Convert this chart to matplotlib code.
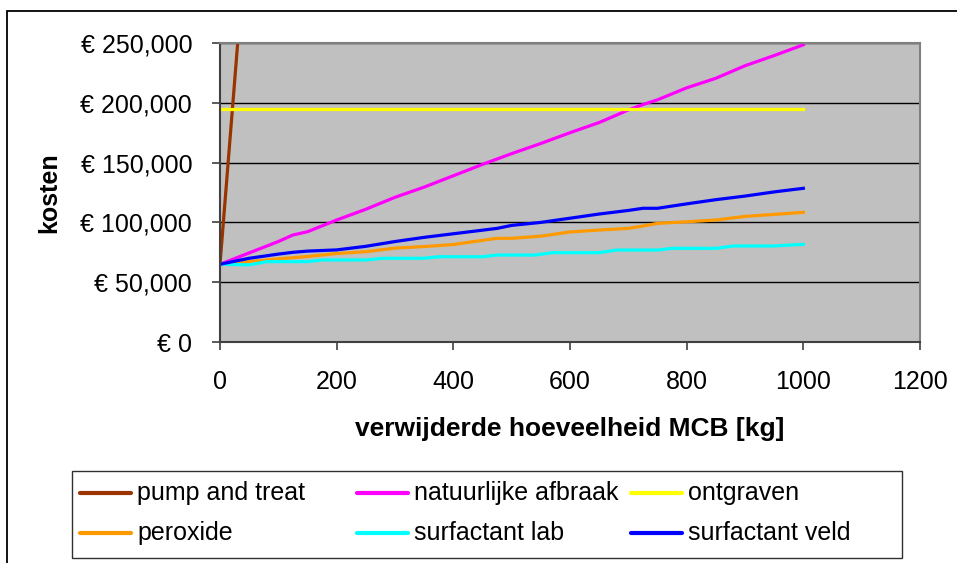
import matplotlib.pyplot as plt
from matplotlib.patches import Rectangle
from matplotlib.lines import Line2D
from matplotlib.ticker import FuncFormatter

plt.rcParams['font.family'] = ['Liberation Sans', 'DejaVu Sans']

# gemeenschappelijke x-waarden (kg MCB)
kg = [0, 50, 100, 125, 150, 200, 250, 300, 350, 400, 450, 475, 500,
      550, 600, 650, 700, 725, 750, 800, 850, 900, 950, 1000]

pump_kg = [0, 50]
pump = [65000, 370000]

natuurlijk = [65000, 74500, 84000, 89500, 92200, 102000, 111000, 121000, 129500,
              139000, 148500, 153000, 157500, 166000, 175000, 183500, 194000,
              198500, 202500, 212500, 220500, 231000, 239500, 248500]

ontgraven_kg = [0, 1000]
ontgraven = [195000, 195000]

peroxide = [65000, 67200, 69500, 70500, 71500, 74000, 75500, 78500, 79800,
            81500, 85000, 86700, 86700, 88500, 92000, 93600, 95000, 97000,
            99200, 100500, 102000, 105000, 106700, 108400]

lab_kg = [0, 50, 80, 150, 175, 250, 280, 350, 375, 450, 475, 540, 570,
          650, 680, 750, 775, 850, 880, 950, 1000]
lab = [65000, 64500, 67200, 67200, 68600, 68600, 70000, 70000, 71300, 71300,
       72700, 72700, 74700, 74700, 76900, 76900, 78300, 78300, 80300, 80300, 81700]

veld = [65000, 70000, 73500, 75000, 76000, 77000, 80000, 84000, 87500, 90500,
        93500, 95000, 97500, 100000, 103500, 107000, 110000, 111800, 111800,
        115500, 119000, 122000, 125500, 128500]

namen = ['pump and treat', 'natuurlijke afbraak', 'ontgraven',
         'peroxide', 'surfactant lab', 'surfactant veld']
kleuren = ['#993300', '#FF00FF', '#FFFF00', '#FF9900', '#00FFFF', '#0000FF']

fig = plt.figure(figsize=(9.57, 5.63), dpi=100)
W, H = 957, 563
ax = fig.add_axes([220 / W, 1 - 342 / H, 700 / W, 299 / H])

# buitenkader van de grafiek
fig.patches.append(Rectangle((7 / W, -0.1), 1.2, 1.1 - 11 / H, transform=fig.transFigure,
                             fill=False, edgecolor='black', linewidth=1.3))

lw = 2.3
series = [(pump_kg, pump), (kg, natuurlijk), (ontgraven_kg, ontgraven),
          (kg, peroxide), (lab_kg, lab), (kg, veld)]
for (xs, ys), naam, kleur in zip(series, namen, kleuren):
    ax.plot(xs, ys, color=kleur, lw=lw, label=naam)

ax.set_facecolor('#C0C0C0')
ax.set_xlim(0, 1200)
ax.set_ylim(0, 250000)
ax.set_xticks(range(0, 1201, 200))
ax.set_yticks(range(0, 250001, 50000))
ax.yaxis.set_major_formatter(FuncFormatter(lambda v, p: '€ {:,.0f}'.format(v)))
ax.grid(axis='y', color='black', lw=1)
ax.set_axisbelow(True)
ax.tick_params(axis='both', labelsize=18, length=6, width=1.2, color='#404040', pad=14)
for s in ['top', 'right']:
    ax.spines[s].set_color('#808080')
    ax.spines[s].set_linewidth(1.5)
for s in ['left', 'bottom']:
    ax.spines[s].set_color('#404040')
    ax.spines[s].set_linewidth(1.5)

ax.set_xlabel('verwijderde hoeveelheid MCB [kg]', fontsize=19, fontweight='bold', labelpad=17)
ax.set_ylabel('kosten', fontsize=18, fontweight='bold', labelpad=14)

# legenda: vaste kolombreedte zoals in Excel
fig.patches.append(Rectangle((72 / W, 1 - 558 / H), 830 / W, 87 / H, transform=fig.transFigure,
                             fill=False, edgecolor='#303030', linewidth=1))
kol_x = [80, 357, 631]
rij_y = [493, 533]
for i, (naam, kleur) in enumerate(zip(namen, kleuren)):
    x0 = kol_x[i % 3]
    y0 = 1 - rij_y[i // 3] / H
    fig.add_artist(Line2D([x0 / W, (x0 + 51) / W], [y0, y0], color=kleur, lw=3,
                          solid_capstyle='round', transform=fig.transFigure))
    fig.text((x0 + 57) / W, y0, naam, fontsize=18, va='center', ha='left')

fig.savefig('out.png', dpi=100)
